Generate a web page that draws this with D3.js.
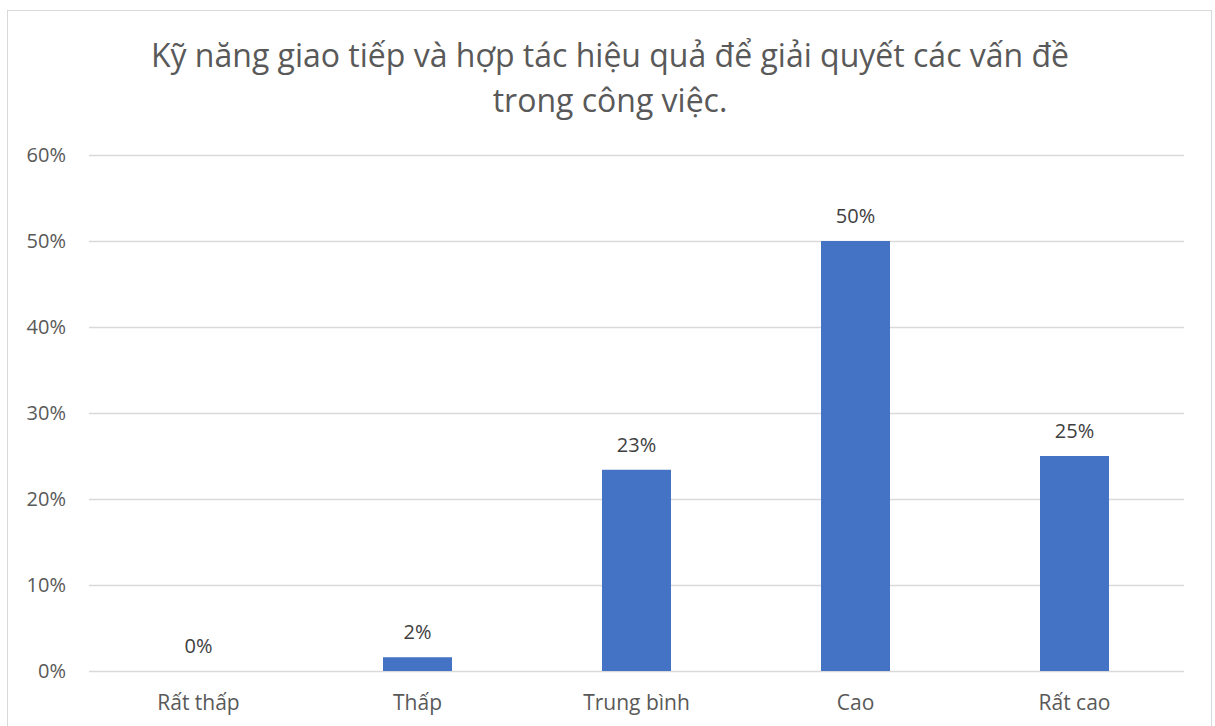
<!DOCTYPE html>
<html>
<head>
<meta charset="utf-8">
<script src="https://cdn.jsdelivr.net/npm/d3@7"></script>
<style>
    body { margin: 0; background: #fff; }
    svg text { font-family: "Open Sans", "Noto Sans", sans-serif; }
</style>
</head>
<body>
<svg id="chart" width="1215" height="726"></svg>
<script>
var categories = ["Rất thấp", "Thấp", "Trung bình", "Cao", "Rất cao"];
var values = [0, 1.6, 23.4, 50, 25];
var dataLabels = ["0%", "2%", "23%", "50%", "25%"];
var yTicks = [0, 10, 20, 30, 40, 50, 60];
var titleLines = ["Kỹ năng giao tiếp và hợp tác hiệu quả để giải quyết các vấn đề", "trong công việc."];

var svg = d3.select('#chart');
var margin = {left: 89, right: 31, top: 155, bottom: 55};
var width = 1215, height = 726;

// chart area border
svg.append('rect')
    .attr('x', 7.5).attr('y', 10.5)
    .attr('width', 1204).attr('height', 730)
    .attr('fill', '#fff')
    .attr('stroke', '#d9d9d9');

var x = d3.scaleBand()
    .domain(categories)
    .range([margin.left, width - margin.right])
    .paddingInner(0.685)
    .paddingOuter(0.3425);

var y = d3.scaleLinear()
    .domain([0, 60])
    .range([height - margin.bottom, margin.top]);

// gridlines
svg.append('g').selectAll('line')
    .data(yTicks)
    .enter().append('line')
    .attr('x1', margin.left).attr('x2', width - margin.right)
    .attr('y1', function (d) { return Math.round(y(d)) + 0.5; })
    .attr('y2', function (d) { return Math.round(y(d)) + 0.5; })
    .attr('stroke', '#d9d9d9')
    .attr('stroke-width', 1.5);

// y tick labels
svg.append('g').selectAll('text')
    .data(yTicks)
    .enter().append('text')
    .attr('x', 66)
    .attr('y', function (d) { return y(d); })
    .attr('dy', '0.36em')
    .attr('text-anchor', 'end')
    .attr('font-size', 20)
    .attr('fill', '#595959')
    .text(function (d) { return d + '%'; });

// bars
svg.append('g').selectAll('rect')
    .data(values)
    .enter().append('rect')
    .attr('x', function (d, i) { return x(categories[i]); })
    .attr('y', function (d) { return y(d); })
    .attr('width', x.bandwidth())
    .attr('height', function (d) { return y(0) - y(d); })
    .attr('fill', '#4472c4');

// data labels
svg.append('g').selectAll('text')
    .data(values)
    .enter().append('text')
    .attr('x', function (d, i) { return x(categories[i]) + x.bandwidth() / 2; })
    .attr('y', function (d) { return y(d) - 18; })
    .attr('text-anchor', 'middle')
    .attr('font-size', 20)
    .attr('fill', '#404040')
    .text(function (d, i) { return dataLabels[i]; });

// category labels
svg.append('g').selectAll('text')
    .data(categories)
    .enter().append('text')
    .attr('x', function (d) { return x(d) + x.bandwidth() / 2; })
    .attr('y', y(0) + 39)
    .attr('text-anchor', 'middle')
    .attr('font-size', 21)
    .attr('fill', '#595959')
    .text(function (d) { return d; });

// title
svg.append('g').selectAll('text')
    .data(titleLines)
    .enter().append('text')
    .attr('x', 610)
    .attr('y', function (d, i) { return 67 + i * 45; })
    .attr('text-anchor', 'middle')
    .attr('font-size', 32)
    .attr('fill', '#595959')
    .text(function (d) { return d; });
</script>
</body>
</html>
